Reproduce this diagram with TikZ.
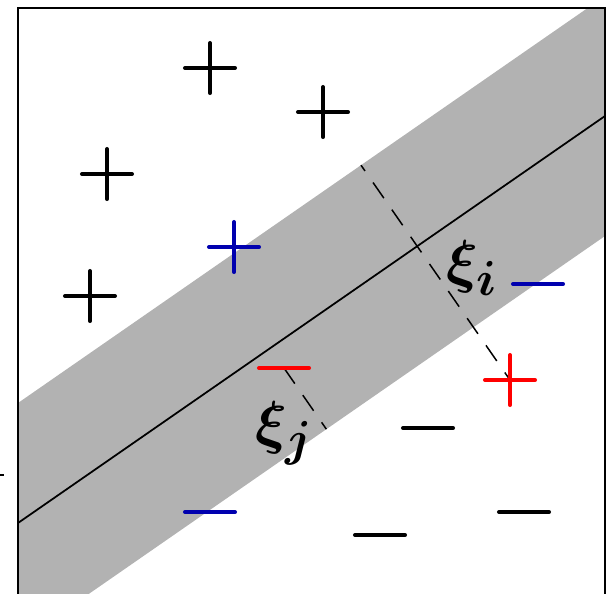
\documentclass[tikz,border=0pt]{standalone}
\usetikzlibrary{calc}
\definecolor{bandgray}{gray}{0.7}
\definecolor{bluex}{RGB}{0,0,175}
\definecolor{redx}{RGB}{255,0,0}
\tikzset{
  mk/.style={line width=2.3pt,line cap=round},
  pics/pl/.style={code={\draw[mk,#1] (-25,0)--(25,0) (0,-25)--(0,25);}},
  pics/mi/.style={code={\draw[mk,#1] (-25,0)--(25,0);}},
  sl/.style={dash pattern=on 10.8pt off 8pt,line width=0.85pt},
  lab/.style={font=\Huge\boldmath,scale=1.35,inner sep=0pt}
}

\begin{document}
\begin{tikzpicture}[x=0.02cm,y=-0.02cm]
\useasboundingbox (0,0) rectangle (609,593);
\clip (0,0) rectangle (609,593);
% margin band and separating line
\coordinate (u1) at (18,403);
\coordinate (u2) at (605,-4);
\coordinate (c1) at (18,523);
\coordinate (c2) at (605,116);
\coordinate (l1) at (18,643);
\coordinate (l2) at (605,236);
\begin{scope}
\clip (18,8) rectangle (605,700);
\fill[bandgray] (u1)--(u2)--(l2)--(l1)--cycle;
\end{scope}
\draw[line width=1pt] (c1)--(c2);
% slack variables
\coordinate (pi) at (510,380);
\coordinate (mj) at (284,368);
\draw[sl,dash phase=6.8pt] ($(u1)!(pi)!(u2)$) -- (pi);
\draw[sl] (mj) -- ($(l1)!(mj)!(l2)$);
% points
\foreach \p in {(210,68),(323,112),(107,174),(90,296)} \pic at \p {pl=black};
\pic at (234,247) {pl=bluex};
\pic at (pi) {pl=redx};
\foreach \p in {(428,428),(524,512),(380,535)} \pic at \p {mi=black};
\foreach \p in {(210,512),(538,284)} \pic at \p {mi=bluex};
\pic at (mj) {mi=redx};
\node[lab] (xi) at (472,268) {$\xi_i$};
\node[lab] (xj) at (284,433) {$\xi_j$};
% frame
\draw[line width=1.13pt] (18,8) rectangle (605,700);
\draw[line width=1pt] (0,475)--(4,475);
\end{tikzpicture}
\end{document}
